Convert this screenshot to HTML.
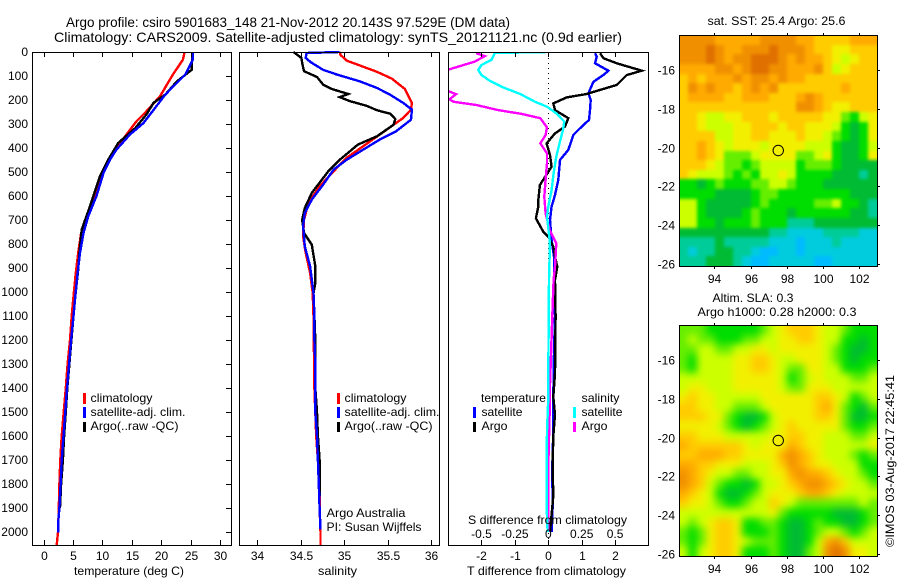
<!DOCTYPE html>
<html>
<head>
<meta charset="utf-8">
<title>Argo profile</title>
<style>
html,body{margin:0;padding:0;background:#fff;}
svg{display:block;}
text{font-family:"Liberation Sans",sans-serif;font-size:12px;fill:#000;}
</style>
</head>
<body>
<svg id="chart" xmlns="http://www.w3.org/2000/svg" width="900" height="580" viewBox="0 0 900 580">
<defs>
<clipPath id="diff-clip"><rect x="449" y="53" width="199" height="492"/></clipPath>
<clipPath id="sst-clip"><rect x="679" y="35" width="199" height="232"/></clipPath>
<clipPath id="sla-clip"><rect x="679" y="325" width="199" height="232"/></clipPath>
<filter id="sst-blur" filterUnits="userSpaceOnUse" x="640" y="0" width="260" height="300" color-interpolation-filters="sRGB"><feGaussianBlur stdDeviation="1.6"/></filter>
<filter id="sla-blur" filterUnits="userSpaceOnUse" x="640" y="290" width="260" height="290" color-interpolation-filters="sRGB"><feGaussianBlur stdDeviation="4"/></filter>
</defs>
<text x="66" y="27" style="font-size:14px" textLength="444" lengthAdjust="spacingAndGlyphs">Argo profile: csiro 5901683_148 21-Nov-2012 20.143S 97.529E (DM data)</text>
<text x="54" y="42" style="font-size:14px" textLength="568" lengthAdjust="spacingAndGlyphs">Climatology: CARS2009. Satellite-adjusted climatology: synTS_20121121.nc (0.9d earlier)</text>

<g id="temp-panel"></g>
<g id="sal-panel"></g>
<g id="diff-panel"></g>
<g id="sst-map"></g>
<g id="sla-map"></g>

<text x="74" y="575" textLength="110" lengthAdjust="spacingAndGlyphs">temperature (deg C)</text>
<text x="318" y="575" textLength="39" lengthAdjust="spacingAndGlyphs">salinity</text>
<text x="467" y="575" textLength="159" lengthAdjust="spacingAndGlyphs">T difference from climatology</text>
<text x="468" y="524" textLength="159" lengthAdjust="spacingAndGlyphs">S difference from climatology</text>

<g>
<rect x="83" y="393" width="3" height="11" fill="#ff0000"/>
<rect x="83" y="407" width="3" height="11" fill="#0000ff"/>
<rect x="83" y="422" width="3" height="10" fill="#000"/>
<text x="90.5" y="402" textLength="62" lengthAdjust="spacingAndGlyphs">climatology</text>
<text x="90.5" y="416" textLength="95" lengthAdjust="spacingAndGlyphs">satellite-adj. clim.</text>
<text x="90.5" y="430" textLength="88" lengthAdjust="spacingAndGlyphs">Argo(..raw -QC)</text>
</g>
<g>
<rect x="337" y="393" width="3" height="11" fill="#ff0000"/>
<rect x="337" y="407" width="3" height="11" fill="#0000ff"/>
<rect x="337" y="422" width="3" height="10" fill="#000"/>
<text x="344.5" y="402" textLength="62" lengthAdjust="spacingAndGlyphs">climatology</text>
<text x="344.5" y="416" textLength="95" lengthAdjust="spacingAndGlyphs">satellite-adj. clim.</text>
<text x="344.5" y="430" textLength="88" lengthAdjust="spacingAndGlyphs">Argo(..raw -QC)</text>
</g>
<text x="326.5" y="517" textLength="79" lengthAdjust="spacingAndGlyphs">Argo Australia</text>
<text x="326.5" y="531" textLength="95" lengthAdjust="spacingAndGlyphs">PI: Susan Wijffels</text>

<g>
<text x="481" y="402" textLength="65" lengthAdjust="spacingAndGlyphs">temperature</text>
<text x="581.5" y="402" textLength="38" lengthAdjust="spacingAndGlyphs">salinity</text>
<rect x="473" y="407" width="3" height="11" fill="#0000ff"/>
<rect x="473" y="422" width="3" height="10" fill="#000"/>
<rect x="573" y="407" width="3" height="11" fill="#00ffff"/>
<rect x="573" y="422" width="3" height="10" fill="#ff00ff"/>
<text x="481.5" y="416" textLength="41" lengthAdjust="spacingAndGlyphs">satellite</text>
<text x="481.5" y="430" textLength="26" lengthAdjust="spacingAndGlyphs">Argo</text>
<text x="581.5" y="416" textLength="41" lengthAdjust="spacingAndGlyphs">satellite</text>
<text x="581.5" y="430" textLength="26" lengthAdjust="spacingAndGlyphs">Argo</text>
</g>

<text x="707.5" y="25" textLength="138" lengthAdjust="spacingAndGlyphs">sat. SST: 25.4 Argo: 25.6</text>
<text x="712.5" y="302" textLength="81" lengthAdjust="spacingAndGlyphs">Altim. SLA: 0.3</text>
<text x="697.5" y="316" textLength="159" lengthAdjust="spacingAndGlyphs">Argo h1000: 0.28 h2000: 0.3</text>
<text transform="translate(894 547) rotate(-90)" textLength="172" lengthAdjust="spacingAndGlyphs">©IMOS 03-Aug-2017 22:45:41</text>
</svg>

<script>
// ---- depth axis ----
var depthTicks = [0,100,200,300,400,500,600,700,800,900,1000,1100,1200,1300,1400,1500,1600,1700,1800,1900,2000];

// ---- temperature profiles ----
var tempTicks = [0,5,10,15,20,25,30];
var tempClimDepths = [0,32,94,185,247,289,351,414,455,504,601,699,754,837,920,1018,1100,1200,1300,1400,1500,1600,1700,1800,1900,2000,2054];
var tempClimValues = [24,23.7,22,19.8,17.5,15.8,13.9,12.2,11,9.9,8.8,7.2,6.4,5.9,5.5,5.1,4.8,4.5,4.1,3.8,3.43,3.1,2.86,2.7,2.6,2.47,2.25];
var tempSatDepths = [0,32,94,150,178,226,296,344,407,449,504,601,685,754,837,920,1018,1100,1200,1300,1400,1500,1600,1700,1800,1900,1960,2003];
var tempSatValues = [25.4,25.4,24.1,21.8,20.7,19.2,17,14.7,12.4,11.3,10.2,9,7.6,6.8,6.2,5.8,5.4,5.1,4.7,4.35,4,3.7,3.4,3.1,2.9,2.7,2.5,2.5];
var tempArgoDepths = [0,74,122,178,212,261,317,379,449,518,643,740,837,906,1018,1100,1200,1300,1400,1500,1600,1700,1800,1900];
var tempArgoValues = [25.3,25.2,22.7,20.7,18.7,17.5,15.6,12.7,11,9.6,7.9,6.5,6.1,5.9,5.4,5.1,4.75,4.4,4.05,3.8,3.5,3.3,3.0,2.8];

// ---- salinity profiles ----
var salTicks = [34,34.5,35,35.5,36];
var salClimDepths = [0,12,36,56,83,111,154,212,240,275,303,344,393,441,497,560,629,699,768,837,920,1004,1100,1200,1300,1400,1500,1600,1700,1800,1900,2000,2054];
var salClimValues = [34.95,34.96,35.03,35.18,35.38,35.55,35.7,35.78,35.77,35.68,35.57,35.41,35.22,35.03,34.88,34.72,34.59,34.54,34.53,34.56,34.61,34.64,34.65,34.65,34.66,34.66,34.67,34.68,34.7,34.72,34.72,34.73,34.73];
var salSatDepths = [0,4,25,43,74,94,122,150,178,212,240,282,330,365,407,449,490,553,615,671,726,810,893,1004,1100,1200,1300,1400,1500,1600,1700,1800,1900,1990];
var salSatValues = [34.95,34.57,34.56,34.62,34.76,34.92,35.18,35.38,35.53,35.68,35.78,35.77,35.6,35.41,35.22,35.03,34.88,34.76,34.63,34.55,34.53,34.55,34.61,34.65,34.66,34.66,34.67,34.67,34.67,34.69,34.7,34.71,34.72,34.73];
var salArgoDepths = [0,25,46,80,104,136,154,175,188,205,224,243,257,279,303,351,386,449,497,587,650,699,754,803,893,963,1004,1100,1200,1300,1400,1500,1600,1700,1850];
var salArgoValues = [34.42,34.51,34.52,34.54,34.69,34.76,34.86,35.05,34.95,35.07,35.26,35.38,35.53,35.59,35.57,35.38,35.16,34.95,34.82,34.63,34.55,34.52,34.54,34.63,34.67,34.67,34.65,34.66,34.67,34.67,34.67,34.69,34.7,34.72,34.72];

// ---- difference profiles ----
var diffTTicks = [-2,-1,0,1,2];
var diffSTickLabels = ["-0.5","-0.25","0","0.25","0.5"];
var diffSTicks = [-0.5,-0.25,0,0.25,0.5];
var dTSatDepths = [5,19,47,78,96,124,172,200,242,283,318,346,408,450,533,596,644,700,783,853,950,1100,1250,1437,1580,1725,1900,2000];
var dTSatValues = [1.4,1.45,1.4,1.8,1.65,1.35,1.2,1.27,1.25,1.22,0.95,0.75,0.6,0.35,0.3,0.2,0.1,0.05,0.1,0.17,0.17,0.2,0.17,0.15,0.15,0.12,0.13,0.1];
var dTArgoDepths = [5,26,47,78,96,137,158,175,189,214,242,276,311,339,381,429,478,506,554,617,644,693,749,769,811,853,894,950,1100,1340,1437,1510,1600,1725,1850,2000];
var dTArgoValues = [1.55,1.65,2.05,2.8,2.35,2.05,1.55,1.15,0.55,0.15,0.2,0.6,0.5,0.2,-0.05,0.05,0.1,-0.03,-0.25,-0.3,-0.3,-0.37,-0.15,0,0.15,0.2,0.27,0.2,0.22,0.2,0.15,0.2,0.15,0.13,0.15,0.05];
var dSSatDepths = [0,4,33,54,75,96,119,147,175,207,228,256,290,325,367,436,506,575,644,686,783,853,950,1340,1437,1580,1725,1900,2000];
var dSSatValues = [0,-0.4,-0.425,-0.5,-0.525,-0.5,-0.44,-0.34,-0.21,-0.1,-0.01,0.06,0.12,0.11,0.09,0.06,0.04,0.025,0,-0.01,0.01,0.01,0.005,0,0,-0.01,-0.012,-0.012,-0.005];
var dSArgoDepths = [5,17,40,72,100,140,165,176,197,207,221,242,258,276,314,346,381,422,464,533,603,672,742,797,894,950,1100,1437,1510,1725,2000];
var dSArgoValues = [-0.54,-0.475,-0.55,-0.74,-0.85,-0.85,-0.74,-0.69,-0.74,-0.71,-0.54,-0.375,-0.2,-0.06,-0.01,-0.02,-0.06,-0.01,-0.01,-0.02,-0.03,-0.02,0.01,0.06,0.05,0.04,0.03,0.01,0.01,0,0];

// ---- map axes ----
var lonTicks = [94,96,98,100,102];
var latTicks = [16,18,20,22,24,26];
var argoLon = [97.529];
var argoLat = [20.143];

// ---- map colour levels (0 = warmest/highest ... 11 = coolest/lowest) ----
var sstLevels = [
[1,1,1,1,2,2,2,2,2,1,1,1,1,2,2,3,3,3,3,2,2,2],
[1,1,1,0,1,2,2,1,1,1,0,1,1,1,2,3,3,4,4,3,3,3],
[1,1,1,0,1,2,1,1,0,0,0,1,2,1,2,2,3,4,5,4,3,3],
[2,2,2,2,1,1,2,1,0,0,1,1,2,2,2,1,3,5,4,3,3,3],
[3,2,3,2,2,2,1,2,1,1,2,1,2,2,3,3,3,3,3,3,3,3],
[3,1,2,1,2,2,3,2,1,2,1,3,3,3,3,3,3,3,2,3,3,3],
[3,2,2,2,2,3,3,2,2,2,3,3,3,2,1,2,3,3,3,3,3,3],
[3,3,3,3,3,3,3,3,3,3,3,3,3,1,1,2,3,4,4,3,3,3],
[3,3,4,5,5,4,4,3,3,3,4,3,3,3,3,3,4,4,6,7,5,4],
[3,3,4,5,5,5,4,4,3,3,3,4,3,3,4,4,4,5,7,8,7,4],
[3,3,3,3,5,5,4,4,3,3,4,4,4,3,4,4,5,6,7,8,7,4],
[3,3,2,3,4,5,4,4,4,5,4,4,4,4,5,5,5,7,8,8,7,5],
[3,3,2,3,4,6,6,6,5,4,4,4,4,6,6,5,4,7,8,8,7,4],
[3,3,3,4,5,6,6,7,6,5,5,5,5,7,6,6,6,7,8,8,8,8],
[3,4,5,5,5,6,7,6,7,5,5,4,5,7,7,7,7,8,8,8,9,8],
[7,7,8,7,6,7,7,7,6,6,5,5,6,7,7,7,8,8,8,8,8,8],
[7,7,7,7,8,8,8,8,7,6,6,7,7,7,7,7,7,7,7,8,8,8],
[5,5,7,8,8,8,8,8,7,6,7,7,7,7,7,6,6,5,7,7,8,9],
[5,5,7,8,8,8,8,7,6,7,7,7,8,7,7,7,7,7,7,8,8,9],
[5,5,7,7,8,7,7,7,6,7,7,7,9,9,9,8,8,8,8,8,8,8],
[8,8,8,8,8,8,8,8,8,8,9,9,10,10,10,10,9,9,9,9,10,10],
[9,9,9,9,8,9,9,9,9,9,10,10,10,11,10,10,10,9,10,10,10,10],
[9,10,9,9,8,8,9,9,10,11,11,10,10,11,10,10,10,10,10,10,10,10],
[9,9,9,8,8,8,9,10,11,11,10,10,10,10,10,11,11,10,10,10,10,10]
];
var slaLevels = [
[6,6,6,7,7,7,7,7,7,6,5,4,3,3,3,4,5,5,6,7,7,7],
[6,5,6,6,7,7,7,6,6,5,5,4,4,3,3,4,5,5,7,7,8,7],
[6,6,5,5,6,6,5,5,4,4,5,4,4,4,4,4,5,6,7,8,8,7],
[6,7,5,5,5,5,4,4,3,3,4,5,5,4,4,4,5,6,7,8,7,7],
[6,7,5,5,5,5,4,4,3,3,4,5,6,6,4,4,5,5,7,7,7,6],
[5,5,5,5,5,5,4,4,4,4,4,5,7,6,5,4,5,5,5,6,6,5],
[5,4,4,5,5,5,4,4,4,4,4,5,6,6,4,4,4,5,5,5,5,5],
[4,3,4,4,5,5,5,5,5,4,4,4,4,4,4,3,3,4,5,7,6,5],
[3,3,4,4,5,5,6,6,6,5,4,4,4,4,4,3,2,4,6,7,8,6],
[3,3,3,4,4,6,7,8,8,7,5,4,4,4,4,3,3,4,6,8,8,7],
[4,4,4,4,5,6,7,8,7,6,5,4,3,4,4,4,4,4,6,7,7,6],
[3,3,4,4,4,5,5,5,5,5,4,4,3,3,4,4,5,5,5,6,6,5],
[2,3,3,3,3,3,3,4,5,4,4,4,2,3,4,4,5,5,5,5,5,4],
[3,3,2,2,2,3,3,4,4,4,4,2,1,2,3,4,5,5,5,6,7,6],
[2,2,3,3,4,4,4,5,5,5,4,3,1,2,3,4,4,5,5,5,7,7],
[1,2,3,4,5,5,6,6,5,5,4,4,2,1,2,2,3,4,5,5,6,7],
[1,2,3,5,6,7,7,8,7,5,5,4,3,2,1,1,2,3,4,5,5,6],
[2,3,4,5,7,8,8,7,6,5,4,4,4,3,2,2,3,4,5,5,5,5],
[3,4,4,5,6,7,7,6,5,5,3,4,5,6,6,6,6,6,6,6,5,6],
[5,5,5,5,5,5,5,5,5,5,4,6,7,7,7,7,7,8,8,8,7,6],
[5,6,5,4,3,3,4,7,7,6,6,7,8,8,7,6,7,7,8,8,7,6],
[6,7,6,4,3,3,4,7,7,7,6,7,8,8,7,6,5,5,6,7,6,5],
[6,7,6,4,3,3,4,5,6,6,6,7,8,8,7,5,2,1,3,5,5,5],
[5,7,5,4,3,3,4,7,7,7,6,7,8,8,6,5,1,0,1,4,4,5]
];
var levelColors = ["#e07000","#f09000","#ffaa00","#ffcc00","#f2f000","#ccff00","#66ee00","#00dd00","#00bb33","#00cc99","#00ccdd","#00bbff"];

// ---- axis functions ----
var NS = "http://www.w3.org/2000/svg";
function depthY(d){ return 52 + d * 0.24; }
function tempX(t){ return 43.5 + t * 5.88; }
function salX(s){ return 257 + (s - 34) * 87; }
function diffTX(t){ return 548.3 + t * 33.4; }
function diffSX(s){ return 548.3 + s * 133.6; }
function lonX(lon){ return 714.3 + (lon - 94) * 18.12; }
function latY(lat, top){ return top + (lat - 14.2) * 19.35; }

function make(tag, parent, attrs){
  var el = document.createElementNS(NS, tag);
  for (var k in attrs) el.setAttribute(k, attrs[k]);
  parent.appendChild(el);
  return el;
}
function drawFrame(parent, x0, y0, x1, y1){
  var el = make("rect", parent, {x:x0+0.5, y:y0+0.5, width:x1-x0, height:y1-y0, fill:"none", stroke:"#000", "stroke-width":1, "shape-rendering":"crispEdges"});
  
  
}
function drawLine(parent, x1, y1, x2, y2){
  var el = make("line", parent, {x1:x1, y1:y1, x2:x2, y2:y2, stroke:"#000", "stroke-width":1, "shape-rendering":"crispEdges"});
  
  
}
function drawLabel(parent, x, y, anchor, str){
  var el = make("text", parent, {x:x, y:y, "text-anchor":anchor});
  el.textContent = str;
  
  
}
function drawSeries(parent, depths, values, xFn, color, name, clip){
  var pts = [];
  for (var i = 0; i < depths.length; i++) pts.push(xFn(values[i]).toFixed(1) + "," + depthY(depths[i]).toFixed(1));
  var attrs = {points:pts.join(" "), fill:"none", stroke:color, "stroke-width":2.4, "stroke-linejoin":"miter", "shape-rendering":"crispEdges"};
  if (clip) attrs["clip-path"] = "url(#" + clip + ")";
  var el = make("polyline", parent, attrs);
  
  
}

// ---- temperature panel ----
var tp = document.getElementById("temp-panel");
drawSeries(tp, tempClimDepths, tempClimValues, tempX, "#ff0000", "temperature-climatology-line");
drawSeries(tp, tempArgoDepths, tempArgoValues, tempX, "#000000", "temperature-argo-line");
drawSeries(tp, tempSatDepths, tempSatValues, tempX, "#0000ff", "temperature-satellite-line");
drawFrame(tp, 32, 52, 231, 545);
depthTicks.forEach(function(d){
  var y = Math.round(depthY(d)) + 0.5;
  drawLine(tp, 226, y, 231, y);
  drawLabel(tp, 28, y + 3.5, "end", String(d));
});
tempTicks.forEach(function(t){
  var x = Math.round(tempX(t)) + 0.5;
  drawLine(tp, x, 52, x, 57);
  drawLine(tp, x, 540, x, 545);
  drawLabel(tp, x, 560, "middle", String(t));
});

// ---- salinity panel ----
var sp = document.getElementById("sal-panel");
drawSeries(sp, salClimDepths, salClimValues, salX, "#ff0000", "salinity-climatology-line");
drawSeries(sp, salArgoDepths, salArgoValues, salX, "#000000", "salinity-argo-line");
drawSeries(sp, salSatDepths, salSatValues, salX, "#0000ff", "salinity-satellite-line");
drawFrame(sp, 239, 52, 439, 545);
salTicks.forEach(function(s){
  var x = Math.round(salX(s)) + 0.5;
  drawLine(sp, x, 52, x, 57);
  drawLine(sp, x, 540, x, 545);
  drawLabel(sp, x, 560, "middle", String(s));
});

// ---- difference panel ----
var dp = document.getElementById("diff-panel");
var zero = make("line", dp, {x1:548.5, y1:53, x2:548.5, y2:540, stroke:"#000", "stroke-width":1, "stroke-dasharray":"1 4", "shape-rendering":"crispEdges"});


drawSeries(dp, dTSatDepths, dTSatValues, diffTX, "#0000ff", "t-difference-satellite-line", "diff-clip");
drawSeries(dp, dTArgoDepths, dTArgoValues, diffTX, "#000000", "t-difference-argo-line", "diff-clip");
drawSeries(dp, dSArgoDepths, dSArgoValues, diffSX, "#ff00ff", "s-difference-argo-line", "diff-clip");
drawSeries(dp, dSSatDepths, dSSatValues, diffSX, "#00ffff", "s-difference-satellite-line", "diff-clip");
drawFrame(dp, 448, 52, 648, 545);
diffTTicks.forEach(function(t){
  var x = Math.round(diffTX(t)) + 0.5;
  drawLine(dp, x, 52, x, 57);
  drawLine(dp, x, 540, x, 545);
  drawLabel(dp, x, 560, "middle", String(t));
});
diffSTicks.forEach(function(s, i){
  drawLabel(dp, diffSX(s), 538, "middle", diffSTickLabels[i]);
});

// ---- maps ----
function drawMap(group, levels, top, bottom, name){
  var x0 = 679.5, x1 = 877.5, y0 = top + 0.5, y1 = bottom + 0.5;
  var rows = levels.length;
  var clipG = make("g", group, {"clip-path":"url(#" + name + "-clip)"});
  
  
  var blurG = make("g", clipG, {filter:"url(#" + name + "-blur)"});
  
  
  levels.forEach(function(row, r){
    row.forEach(function(level, c){
      var cx0 = Math.floor(x0 + (x1 - x0) * c / row.length);
      var cx1 = Math.ceil(x0 + (x1 - x0) * (c + 1) / row.length);
      var cy0 = Math.floor(y0 + (y1 - y0) * r / rows);
      var cy1 = Math.ceil(y0 + (y1 - y0) * (r + 1) / rows);
      // outer cells run past the frame so the blur does not fade at the clipped edge
      if (c === 0) cx0 -= 16;
      if (c === row.length - 1) cx1 += 16;
      if (r === 0) cy0 -= 16;
      if (r === rows - 1) cy1 += 16;
      var cell = make("rect", blurG, {x:cx0, y:cy0, width:cx1 - cx0, height:cy1 - cy0, fill:levelColors[level], "shape-rendering":"crispEdges"});
      
      
    });
  });
  drawFrame(group, 679, top, 877, bottom);
  lonTicks.forEach(function(lon){
    var x = Math.round(lonX(lon)) + 0.5;
    drawLine(group, x, top - 2, x, top);
    drawLine(group, x, bottom, x, bottom + 3);
    drawLabel(group, x, bottom + 17, "middle", String(lon));
  });
  latTicks.forEach(function(lat){
    var y = Math.round(latY(lat, top + 0.5)) + 0.5;
    drawLine(group, 877, y, 880, y);
    drawLabel(group, 675, y + 4, "end", "-" + lat);
  });
  var marker = make("circle", group, {cx:lonX(argoLon[0]), cy:latY(argoLat[0], top + 0.5), r:5.2, fill:"none", stroke:"#000", "stroke-width":1});
  
  
}
drawMap(document.getElementById("sst-map"), sstLevels, 35, 266, "sst");
drawMap(document.getElementById("sla-map"), slaLevels, 325, 556, "sla");
</script>
</body>
</html>
